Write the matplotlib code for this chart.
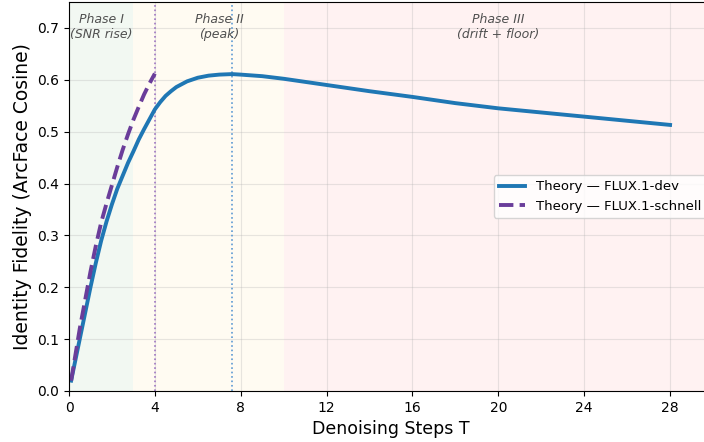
import numpy as np
import matplotlib.pyplot as plt

# values
t_dev = [0.1, 0.5, 1.0, 1.25, 1.5, 1.75, 2.0, 2.25, 2.5, 2.75, 3.0, 3.25, 3.5, 3.75, 4.0,
         4.25, 4.5, 4.75, 5.0, 5.5, 6.0, 6.5, 7.0, 7.6, 8.0, 9.0, 10.0, 11.0, 12.0,
         14.0, 16.0, 18.0, 20.0, 22.0, 24.0, 26.0, 28.0]
fid_dev = [0.02, 0.10, 0.20, 0.247, 0.29, 0.327, 0.36, 0.39, 0.415, 0.44, 0.462, 0.485, 0.505,
           0.524, 0.543, 0.557, 0.569, 0.578, 0.586, 0.597, 0.604, 0.608, 0.610, 0.611, 0.610,
           0.607, 0.602, 0.596, 0.590, 0.578, 0.567, 0.555, 0.545, 0.537, 0.529, 0.521, 0.513]

t_schnell = [0.1, 0.5, 0.75, 1.0, 1.25, 1.5, 1.75, 2.0, 2.25, 2.5, 2.75, 3.0, 3.25, 3.5, 3.75, 4.0]
fid_schnell = [0.02, 0.12, 0.175, 0.23, 0.28, 0.325, 0.362, 0.397, 0.432, 0.465, 0.495, 0.523,
               0.548, 0.572, 0.593, 0.612]

phase_edges = [0, 3, 10, 30]
phase_colors = ['green', '#ffc107', 'red']
phase_labels = ['Phase I\n(SNR rise)', 'Phase II\n(peak)', 'Phase III\n(drift + floor)']
phase_text_x = [1.5, 7.0, 20.0]

peak_dev = 7.6
peak_schnell = 4.0

fig = plt.figure(figsize=(7.04, 4.42), dpi=100)
ax = fig.add_axes([69/704, 51/442, (713-69)/704, 389/442])

for i in range(3):
    ax.axvspan(phase_edges[i], phase_edges[i+1], color=phase_colors[i], alpha=0.05, lw=0)
    ax.text(phase_text_x[i], 0.728, phase_labels[i], ha='center', va='top',
            fontsize=9, style='italic', color='#505050')

ax.axvline(peak_schnell, color='#9467bd', ls=':', lw=1.2, alpha=0.9)
ax.axvline(peak_dev, color='#4a8fd0', ls=':', lw=1.2, alpha=0.9)

ax.plot(t_dev, fid_dev, color='#1f77b4', lw=2.8, label='Theory — FLUX.1-dev')
ax.plot(t_schnell, fid_schnell, color='#6a3d9a', lw=2.8, ls='--', label='Theory — FLUX.1-schnell')

ax.set_xlim(0, 30)
ax.set_ylim(0, 0.75)
ax.set_xticks([0, 4, 8, 12, 16, 20, 24, 28])
ax.set_yticks(np.arange(0, 0.71, 0.1))
ax.tick_params(labelsize=10)
ax.grid(True, alpha=0.3)
ax.set_xlabel('Denoising Steps T', fontsize=12.5)
ax.set_ylabel('Identity Fidelity (ArcFace Cosine)', fontsize=13.5)
ax.legend(loc='center right', fontsize=9.5)

fig.savefig('out.png', dpi=100)
